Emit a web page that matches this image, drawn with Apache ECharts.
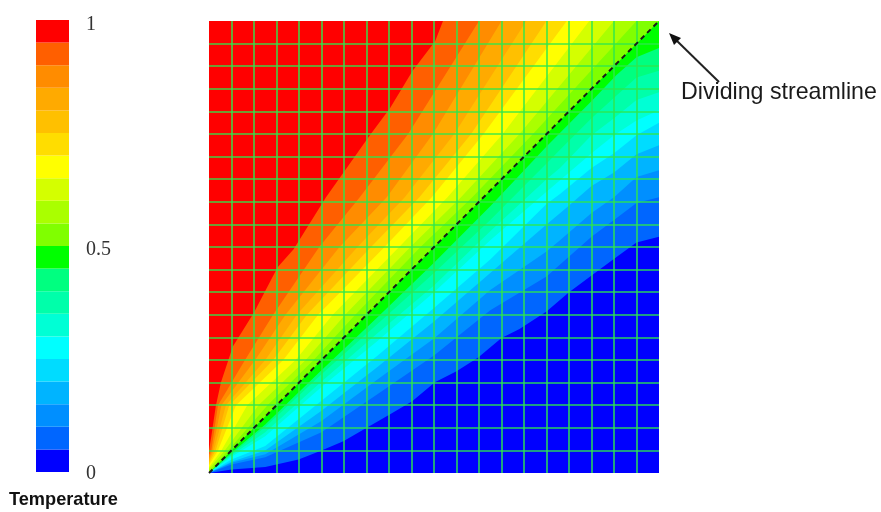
<!DOCTYPE html>
<html>
<head>
<meta charset="utf-8">
<style>
html,body{margin:0;padding:0;background:#fff}
#c{width:881px;height:512px;filter:blur(0.55px)}
</style>
<script src="https://cdn.jsdelivr.net/npm/echarts@6/dist/echarts.min.js"></script>
</head>
<body>
<div id="c"></div>
<script>
// Colour bands, from T = 1 (top) to T = 0 (bottom)
const bandColors = ['#ff0000','#ff5f00','#ff8c00','#ffaa00','#ffc000','#ffdd00','#ffff00','#d4ff00','#aaff00','#80ff00',
                    '#00ff00','#00ff80','#00ffaa','#00ffd5','#00ffff','#00dcff','#00b4ff','#008fff','#0066ff','#0000ff'];
const bandShare = [0.05,0.05,0.05,0.05,0.05,0.05,0.05,0.05,0.05,0.05,0.05,0.05,0.05,0.05,0.05,0.05,0.05,0.05,0.05,0.05];
const barTitle = 'Temperature';
const annotation = 'Dividing streamline';

// Iso-lines, [x, y] in grid cells (0..20); each one bounds a band from above
const c00 = [[0,20],[20,20]];
const c01 = [[0,1.0],[0.1,1.6],[0.3,2.95],[0.53,4],[1.06,5.6],[2,7.1],[3.05,9.1],[3.76,9.9],[5.2,12.2],[7.15,14.95],[8.05,16.15],[9.05,17.8],[10.05,19.1],[10.4,20],[20,20]];
const c02 = [[0,0.8],[0.1,1],[0.4,3],[1.6,5],[2.85,7],[4.9,10],[6.7,12.2],[8.85,15],[12,20],[20,20]];
const c03 = [[0,0.65],[0.15,1],[0.55,3],[2.05,5],[3.4,7],[5.8,10],[7.9,12.2],[9.95,15],[13,20],[20,20]];
const c04 = [[0,0.55],[0.22,1],[0.75,3],[2.5,5],[3.9,7],[6.6,10],[8.7,12.2],[10.9,15],[14.1,20],[20,20]];
const c05 = [[0,0.45],[0.3,1],[0.9,3],[2.85,5],[4.35,7],[7.2,10],[9.35,12.2],[11.65,15],[15,20],[20,20]];
const c06 = [[0,0.35],[0.4,1],[1.2,3],[3.3,5],[4.85,7],[7.8,10],[9.9,12.2],[12.2,15],[15.9,20],[20,20]];
const c07 = [[0,0.25],[0.55,1],[1.7,3],[3.85,5],[5.5,7],[8.45,10],[10.6,12.2],[13.05,15],[16.9,20],[20,20]];
const c08 = [[0,0.18],[0.7,1],[2.2,3],[4.3,5],[6.05,7],[8.95,10],[11.2,12.2],[13.8,15],[18,20],[20,20]];
const c09 = [[0,0.08],[0.85,1],[2.6,3],[4.65,5],[6.5,7],[9.4,10],[11.7,12.2],[14.4,15],[19,20],[20,20]];
const c10 = [[0,0],[20,20]];
const c11 = [[0,0],[1,0.9],[2.5,2.15],[5,4.55],[7.5,6.9],[10,9.3],[12.5,11.8],[15,14.45],[17.05,16.5],[18.1,17.6],[19,18.4],[20,18.8]];
const c12 = [[0,0],[1,0.83],[2.5,2.03],[5,4.37],[7.5,6.6],[10,8.85],[12.5,11.2],[15,13.7],[15.6,14.3],[17,15.7],[18,16.6],[19,17.5],[20,17.8]];
const c13 = [[0,0],[1,0.78],[2.5,1.8],[5,4.05],[7.5,6.2],[10,8.3],[12.5,10.7],[15,13],[15.6,13.5],[17,14.95],[18,15.7],[19,16.5],[20,16.85]];
const c14 = [[0,0],[1,0.72],[2.5,1.63],[5,3.8],[7.5,5.85],[10,8],[12.5,10.3],[15,12.45],[15.6,12.95],[17,14.15],[18,14.95],[19,15.6],[20,16.05]];
const c15 = [[0,0],[1,0.6],[2.5,1.2],[5,3.2],[7.5,5.2],[10,7.3],[12.5,9.45],[15,11.9],[15.6,12.35],[17,13.5],[18,14.15],[19,14.95],[20,15.5]];
const c16 = [[0,0],[1,0.5],[2.5,1],[5,2.75],[7.5,4.7],[10,6.7],[12.5,8.85],[15,11],[15.9,11.75],[17,12.7],[18,13.3],[19,14.1],[20,14.5]];
const c17 = [[0,0],[1,0.45],[2.5,0.83],[5,2.3],[7.5,4.15],[10,5.95],[12.5,8.1],[15,9.8],[15.6,10.3],[17,11.5],[18,12.2],[19,13.1],[20,13.4]];
const c18 = [[0,0],[1,0.38],[2.5,0.7],[5,1.8],[7.5,3.5],[10,5.2],[12.5,7.2],[15,8.7],[17,10.45],[18,11.2],[19,11.95],[20,12.2]];
const c19 = [[0,0],[1,0.15],[2.5,0.27],[3.98,0.6],[5,1],[5.97,1.41],[8.05,2.6],[9.03,3.18],[10.04,4.02],[11,4.5],[11.95,5.1],[13,5.97],[13.8,6.37],[15,7.15],[16,8],[17.9,9.4],[19,10.2],[20,10.45]];
const contours = [c00,c01,c02,c03,c04,c05,c06,c07,c08,c09,c10,c11,c12,c13,c14,c15,c16,c17,c18,c19];
const streamline = [[0,0],[20,20]];

const series = contours.map((pts,i)=>({
  type:'line', xAxisIndex:0, yAxisIndex:0, data:pts, symbol:'none', clip:true, z:2+i*0.01,
  lineStyle:{width:0}, areaStyle:{color:bandColors[i],opacity:1,origin:'start'}, silent:true
}));
series.push({type:'line',xAxisIndex:0,yAxisIndex:0,data:streamline,symbol:'none',z:20,
  lineStyle:{color:'#1a1a1a',width:2,type:[5,4]},silent:true});
bandColors.slice().reverse().forEach((col,i)=>{
  series.push({type:'bar',xAxisIndex:1,yAxisIndex:1,stack:'bar',barWidth:'100%',
    data:[bandShare[i]],itemStyle:{color:col},silent:true});
});
const gridLine = {show:true,showMinLine:false,showMaxLine:false,lineStyle:{color:'#2ee84c',width:1.6,opacity:0.9}};
const hidden = {axisLine:{show:false},axisTick:{show:false},axisLabel:{show:false}};
const chart = echarts.init(document.getElementById('c'),null,{renderer:'canvas'});
chart.setOption({
  animation:false,
  backgroundColor:'#fff',
  grid:[{left:209,top:21,width:450,height:452},{left:36,top:20,width:33,height:452},{left:36,top:25,width:33,height:449}],
  xAxis:[
    Object.assign({type:'value',gridIndex:0,min:0,max:20,interval:1,z:10,splitLine:gridLine},hidden),
    Object.assign({type:'category',gridIndex:1,data:[barTitle],splitLine:{show:false}},hidden),
    Object.assign({type:'category',gridIndex:2,data:[barTitle],splitLine:{show:false}},hidden)
  ],
  yAxis:[
    Object.assign({type:'value',gridIndex:0,min:0,max:20,interval:1,z:10,splitLine:gridLine},hidden),
    Object.assign({type:'value',gridIndex:1,min:0,max:1,interval:0.5,splitLine:{show:false}},hidden),
    {type:'value',gridIndex:2,min:0,max:1,interval:0.5,position:'right',splitLine:{show:false},
     axisLine:{show:false},axisTick:{show:false},
     axisLabel:{show:true,margin:17,fontFamily:'Liberation Serif',fontSize:20,color:'#333'}}
  ],
  graphic:[
    {type:'text',left:9,top:491,style:{text:barTitle,font:'bold 18.2px "Liberation Sans"',fill:'#111'}},
    {type:'text',left:681,top:81,style:{text:annotation,font:'23.2px "Liberation Sans"',fill:'#1a1a1a'}},
    {type:'line',shape:{x1:719,y1:82,x2:675,y2:39},style:{stroke:'#222',lineWidth:2}},
    {type:'polygon',shape:{points:[[669,33],[674,45],[681,38]]},style:{fill:'#111'}}
  ],
  series
});
</script>
</body>
</html>
